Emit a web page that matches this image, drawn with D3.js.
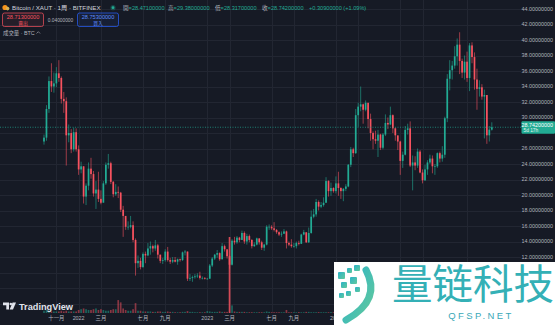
<!DOCTYPE html>
<html>
<head>
<meta charset="utf-8">
<script src="https://cdn.jsdelivr.net/npm/d3@7"></script>
<style>
  html, body { margin: 0; padding: 0; background: #161a25; overflow: hidden; }
  svg { display: block; }
  text { font-family: "Liberation Sans", Arial, "Noto Sans CJK TC", sans-serif; }
</style>
</head>
<body>
<div id="chart"></div>
<script>
// weekly BTC/XAUT candles, Bitfinex; every bar opens at the previous close
const firstWeek = "2021-09-27";
const firstOpen = 26.9;

const closes = [
  27.4, 31.1, 34.7, 34.0, 34.4, 35.7, 35.1, 32.4, 32.1, 27.7,
  28.0, 25.9, 28.1, 25.9, 23.3, 23.7, 19.8, 21.2, 23.4, 22.7,
  20.2, 20.7, 19.5, 19.0, 21.5, 23.9, 24.1, 21.7, 20.1, 20.4,
  20.3, 18.1, 17.3, 15.9, 15.9, 16.1, 14.2, 11.2, 11.5, 10.7,
  12.4, 12.2, 13.1, 13.4, 13.1, 13.5, 12.3, 11.5, 11.6, 12.7,
  11.6, 11.4, 11.6, 11.4, 11.7, 11.6, 12.6, 12.7, 9.2, 9.3,
  9.4, 9.5, 9.6, 9.3, 9.3, 9.2, 9.2, 10.9, 11.8, 12.3,
  12.5, 11.7, 13.4, 13.0, 12.1, 11.0, 14.1, 13.9, 14.5, 14.2,
  15.1, 14.0, 14.7, 14.2, 13.4, 13.6, 14.4, 13.9, 13.2, 13.6,
  15.9, 15.9, 15.7, 15.5, 15.2, 14.9, 15.0, 15.3, 13.8, 13.6,
  13.4, 13.4, 13.8, 13.7, 14.9, 15.2, 13.9, 15.1, 17.2, 17.5,
  19.1, 18.5, 18.7, 19.0, 21.8, 20.5, 20.9, 20.5, 21.5, 20.9,
  20.5, 20.8, 21.1, 23.9, 25.9, 25.4, 30.3, 31.4, 31.7, 31.0,
  31.9, 29.8, 28.0, 27.2, 27.0, 27.8, 26.1, 27.8, 29.3, 29.1,
  30.3, 28.6, 27.7, 26.9, 24.4, 25.2, 28.4, 28.6, 23.8, 24.2,
  23.8, 25.6, 22.9, 21.9, 23.3, 24.2, 24.7, 23.7, 23.7, 25.4,
  24.7, 25.2, 29.9, 35.0, 36.1, 36.7, 37.9, 39.4, 37.3, 35.8,
  37.2, 35.1, 39.3, 37.8, 34.9, 33.7, 33.9, 32.7, 32.9, 27.7,
  28.433, 28.742
];

const highs = [
  27.8, 31.6, 35.3, 37.0, 35.8, 36.5, 37.4, 35.3, 33.3, 32.6,
  29.1, 28.5, 28.7, 28.6, 26.4, 24.3, 23.7, 21.5, 24.2, 24.8,
  23.1, 21.8, 23.0, 20.6, 21.8, 24.2, 25.3, 24.3, 21.8, 21.4,
  21.1, 20.4, 18.6, 17.1, 16.6, 17.3, 16.6, 14.4, 12.2, 11.9,
  12.6, 12.7, 13.8, 14.0, 13.6, 14.2, 13.7, 12.3, 11.9, 13.0,
  13.3, 11.9, 12.0, 12.0, 11.8, 11.8, 12.7, 12.9, 12.7, 9.8,
  9.6, 9.8, 9.9, 10.1, 9.5, 9.4, 9.3, 11.1, 12.0, 12.4,
  12.9, 12.6, 13.8, 13.6, 12.8, 12.2, 14.3, 14.6, 14.7, 14.6,
  15.4, 15.3, 15.0, 14.9, 14.3, 13.9, 14.5, 14.4, 14.1, 13.7,
  16.1, 16.2, 16.1, 16.5, 15.6, 15.3, 15.3, 15.6, 15.4, 14.0,
  14.3, 13.8, 14.0, 14.1, 15.0, 15.5, 15.1, 15.8, 18.0, 18.2,
  19.5, 19.3, 19.1, 19.7, 22.3, 21.9, 21.6, 21.0, 22.4, 23.0,
  21.0, 20.9, 21.4, 24.0, 26.2, 26.1, 31.1, 31.9, 34.0, 31.8,
  32.2, 31.6, 30.5, 28.2, 28.3, 28.4, 27.9, 28.0, 30.4, 30.0,
  31.4, 30.4, 28.7, 27.6, 27.0, 25.6, 28.9, 29.2, 29.5, 25.1,
  25.0, 26.0, 25.8, 23.3, 23.9, 24.5, 25.2, 25.1, 24.0, 25.5,
  25.6, 26.3, 30.1, 35.6, 37.4, 37.3, 39.2, 40.2, 41.0, 37.6,
  38.0, 38.5, 39.6, 39.7, 38.4, 36.3, 34.8, 34.3, 33.6, 32.9,
  28.9, 29.38
];

const lows = [
  26.5, 27.0, 30.6, 33.3, 33.2, 33.9, 34.6, 31.8, 30.6, 23.8,
  26.8, 25.4, 25.6, 25.6, 22.6, 22.8, 18.9, 18.7, 20.6, 22.1,
  19.8, 18.2, 19.1, 18.8, 19.2, 21.3, 23.4, 21.4, 19.7, 19.9,
  19.6, 17.8, 14.6, 15.5, 15.5, 15.7, 13.9, 9.6, 10.6, 10.4,
  10.6, 11.2, 12.1, 12.3, 12.6, 12.8, 11.8, 11.2, 11.1, 11.4,
  11.4, 11.1, 11.2, 11.3, 11.0, 11.4, 11.5, 12.2, 8.9, 8.9,
  8.8, 9.2, 9.3, 9.1, 9.1, 9.1, 9.1, 9.2, 10.7, 11.6,
  11.9, 11.5, 11.7, 12.7, 11.8, 10.5, 10.9, 13.6, 13.7, 13.9,
  14.2, 13.7, 13.6, 13.9, 13.1, 13.3, 13.5, 13.6, 12.9, 12.8,
  13.5, 15.5, 15.5, 15.3, 15.0, 14.7, 14.6, 15.0, 13.1, 13.4,
  13.2, 13.2, 13.1, 13.5, 13.7, 14.8, 13.8, 13.8, 15.0, 17.0,
  17.2, 18.0, 18.3, 18.5, 19.0, 19.8, 19.9, 20.3, 20.2, 19.9,
  19.5, 19.2, 20.5, 21.0, 23.6, 24.9, 25.3, 28.8, 30.8, 29.2,
  30.8, 28.6, 27.0, 25.9, 26.6, 24.9, 25.8, 25.9, 27.6, 28.5,
  29.0, 28.0, 27.0, 25.8, 22.6, 23.5, 25.1, 27.8, 23.6, 20.6,
  23.2, 23.5, 22.8, 21.5, 21.8, 22.6, 24.0, 22.8, 22.6, 23.5,
  24.2, 24.3, 24.8, 29.4, 33.5, 34.9, 36.3, 36.7, 35.6, 35.1,
  34.9, 34.6, 33.4, 37.0, 33.6, 31.0, 32.7, 32.3, 27.3, 26.6,
  26.9, 28.317
];

const volumes = [
  3, 4, 3, 2, 2, 2, 2, 3, 2, 3, 2, 2, 2, 2,
  4, 5, 6, 5, 4, 4, 5, 6, 4, 5, 4, 3, 3, 4,
  5, 5, 17, 14, 6, 4, 3, 3, 5, 13,
  3, 3, 2, 2, 2, 2, 1.5, 1.5, 2, 2, 1.5, 1.5, 2, 1.5, 1.5, 1, 1, 1, 1.5, 1.5,
  2.5, 1.5, 1.5, 1, 1, 1, 1, 1, 2.5, 2, 1.5, 1.5, 1.5, 2, 1.5, 1.5, 1.5,
  100, 10,
  2, 1.5, 1.5, 1.5, 1.5, 1, 1, 1, 1, 1, 1, 1, 1, 2, 1.5, 1, 1, 1, 1, 1, 1,
  4,
  1, 1, 1, 1, 1.2, 1, 1, 1.5, 1.5, 1, 1, 1, 1.2, 1, 1, 1, 1, 1.2, 1, 1,
  1, 1, 1, 1.2, 1.5, 1, 1.5, 1.5, 1.2, 1, 1.2, 1, 1, 1, 1, 1, 1, 1, 1, 1,
  1, 1, 1, 1.2, 1, 1, 1.2, 1, 1.5, 1, 1, 1, 1, 1, 1, 1, 1, 1, 1, 1,
  1.2, 1.5, 1.5, 1.2, 1, 1, 1, 1, 1, 1.2, 1.5, 1, 1, 1, 1.5, 1.5, 1.2, 1, 1, 1,
  1, 1, 1.5
];

// price levels: the grid runs through all of them, labels only show from 12 up
const priceTicks = [6, 8, 10, 12, 14, 16, 18, 20, 22, 24, 26, 28, 30, 32, 34, 36, 38, 40, 42, 44];
const labelFrom = 12;
// time axis: labels after "2024" sit under the site watermark, only their grid lines show
const tickDates = ["2021-11-01", "2022-01-03", "2022-03-07", "2022-07-04", "2022-09-05",
  "2023-01-02", "2023-03-06", "2023-07-03", "2023-09-04", "2024-01-01"];
const tickLabels = ["十一月", "2022", "三月", "七月", "九月", "2023", "三月", "七月", "九月", "2024"];
const hiddenTickDates = ["2024-03-04", "2024-07-01", "2024-09-02", "2025-01-06"];

const lastPrice = 28.742;

const W = 555, H = 325;
const upColor = "#22ab94", downColor = "#f7525f";
const gridColor = "#222632", axisText = "#b2b5be";

const parse = d3.utcParse("%Y-%m-%d");
const start = parse(firstWeek);
const bars = closes.map((c, i) => ({
  date: d3.utcWeek.offset(start, i),
  open: i === 0 ? firstOpen : closes[i - 1],
  high: highs[i],
  low: lows[i],
  close: c,
  volume: volumes[i]
}));

const x = d3.scaleUtc()
  .domain([bars[0].date, bars[bars.length - 1].date])
  .range([44, 491.8]);
const y = d3.scaleLinear().domain([12, 44]).range([257, 9]);
const yVol = d3.scaleLinear().domain([0, 100]).range([313, 237]);

const svg = d3.select("#chart").append("svg")
  .attr("width", W).attr("height", H);

svg.append("rect").attr("width", W).attr("height", H).attr("fill", "#161a25");

// grid
const grid = svg.append("g").attr("shape-rendering", "crispEdges");
grid.selectAll("line.h")
  .data(priceTicks)
  .join("line")
  .attr("class", "h")
  .attr("x1", 0).attr("x2", 521)
  .attr("y1", d => Math.round(y(d)) + 0.5)
  .attr("y2", d => Math.round(y(d)) + 0.5)
  .attr("stroke", gridColor);
grid.selectAll("line.v")
  .data(tickDates.concat(hiddenTickDates))
  .join("line")
  .attr("class", "v")
  .attr("x1", d => Math.round(x(parse(d))) + 0.5)
  .attr("x2", d => Math.round(x(parse(d))) + 0.5)
  .attr("y1", 0).attr("y2", 313)
  .attr("stroke", gridColor);

// volume
svg.append("g")
  .selectAll("rect")
  .data(bars)
  .join("rect")
  .attr("x", d => x(d.date) - 0.85)
  .attr("width", 1.7)
  .attr("y", d => yVol(d.volume))
  .attr("height", d => yVol(0) - yVol(d.volume))
  .attr("fill", d => d.close >= d.open ? upColor : downColor)
  .attr("fill-opacity", d => d.volume > 50 ? 0.85 : 0.5);

// candles
const candle = svg.append("g")
  .selectAll("g")
  .data(bars)
  .join("g")
  .attr("fill", d => d.close >= d.open ? upColor : downColor)
  .attr("stroke", d => d.close >= d.open ? upColor : downColor);

candle.append("line")
  .attr("x1", d => x(d.date)).attr("x2", d => x(d.date))
  .attr("y1", d => y(d.high)).attr("y2", d => y(d.low))
  .attr("stroke-width", 0.6);

candle.append("rect")
  .attr("x", d => x(d.date) - 0.85)
  .attr("width", 1.7)
  .attr("y", d => y(Math.max(d.open, d.close)))
  .attr("height", d => Math.max(0.6, Math.abs(y(d.open) - y(d.close))))
  .attr("stroke", "none");

// last price line
svg.append("line")
  .attr("x1", 0).attr("x2", 522)
  .attr("y1", y(lastPrice)).attr("y2", y(lastPrice))
  .attr("stroke", upColor)
  .attr("stroke-width", 0.7)
  .attr("stroke-dasharray", "1,1.5");

// price axis (a label under the last-price tag is hidden, as on the scale)
svg.append("g")
  .selectAll("text")
  .data(priceTicks.filter(d => d >= labelFrom && Math.abs(y(d) - y(lastPrice)) > 8))
  .join("text")
  .attr("x", 553)
  .attr("y", d => y(d) + 1.9)
  .attr("text-anchor", "end")
  .attr("font-size", 5.4)
  .attr("fill", axisText)
  .text(d => d.toFixed(8));

const tag = svg.append("g");
tag.append("rect")
  .attr("x", 521.5).attr("y", y(lastPrice) - 6)
  .attr("width", 33.5).attr("height", 12.5)
  .attr("rx", 1)
  .attr("fill", upColor);
tag.append("text")
  .attr("x", 553).attr("y", y(lastPrice) - 0.3)
  .attr("text-anchor", "end")
  .attr("font-size", 5.4)
  .attr("fill", "#ffffff")
  .text(lastPrice.toFixed(8));
tag.append("text")
  .attr("x", 523.5).attr("y", y(lastPrice) + 5)
  .attr("font-size", 4.8)
  .attr("fill", "#e6f5f2")
  .text("5d 17h");

// time axis
svg.append("g")
  .selectAll("text")
  .data(tickDates)
  .join("text")
  .attr("x", d => x(parse(d)))
  .attr("y", 319.5)
  .attr("text-anchor", "middle")
  .attr("font-size", 5.4)
  .attr("fill", axisText)
  .text((d, i) => tickLabels[i]);

// legend
const legend = svg.append("g");
legend.append("circle").attr("cx", 5).attr("cy", 7.5).attr("r", 2.6).attr("fill", "#f7931a");
legend.append("circle").attr("cx", 7.6).attr("cy", 8.6).attr("r", 1.8).attr("fill", "#d4b35a");
legend.append("text")
  .attr("x", 12).attr("y", 9.8)
  .attr("font-size", 6.2)
  .attr("fill", "#d1d4dc")
  .text("Bitcoin / XAUT · 1周 · BITFINEX");
legend.append("circle").attr("cx", 113).attr("cy", 7.7).attr("r", 2.6).attr("fill", upColor).attr("fill-opacity", 0.3);
legend.append("circle").attr("cx", 113).attr("cy", 7.7).attr("r", 1.4).attr("fill", upColor);

const ohlc = [["開", "=28.47100000", 123], ["高", "=29.38000000", 168], ["低", "=28.31700000", 215], ["收", "=28.74200000", 262]];
ohlc.forEach(([k, v, px]) => {
  const t = legend.append("text").attr("x", px).attr("y", 9.8).attr("font-size", 5.6);
  t.append("tspan").attr("fill", "#b2b5be").text(k);
  t.append("tspan").attr("fill", upColor).text(v);
});
legend.append("text")
  .attr("x", 309).attr("y", 9.8)
  .attr("font-size", 5.6)
  .attr("fill", upColor)
  .text("+0.30900000 (+1.09%)");

// sell / buy boxes
const sell = legend.append("g");
sell.append("rect").attr("x", 2.5).attr("y", 13).attr("width", 41).attr("height", 13.5).attr("rx", 2)
  .attr("fill", "rgba(247,82,95,0.07)").attr("stroke", downColor).attr("stroke-width", 0.7);
sell.append("text").attr("x", 23).attr("y", 19.2).attr("text-anchor", "middle").attr("font-size", 5.6)
  .attr("fill", downColor).text("28.71300000");
sell.append("text").attr("x", 23).attr("y", 25).attr("text-anchor", "middle").attr("font-size", 4.8)
  .attr("fill", downColor).text("賣出");
legend.append("text").attr("x", 60.5).attr("y", 21.5).attr("text-anchor", "middle").attr("font-size", 4.8)
  .attr("fill", "#b2b5be").text("0.04000000");
const buy = legend.append("g");
buy.append("rect").attr("x", 77.5).attr("y", 13).attr("width", 41).attr("height", 13.5).attr("rx", 2)
  .attr("fill", "rgba(41,98,255,0.07)").attr("stroke", "#2962ff").attr("stroke-width", 0.7);
buy.append("text").attr("x", 98).attr("y", 19.2).attr("text-anchor", "middle").attr("font-size", 5.6)
  .attr("fill", "#5b8cff").text("28.75300000");
buy.append("text").attr("x", 98).attr("y", 25).attr("text-anchor", "middle").attr("font-size", 4.8)
  .attr("fill", "#5b8cff").text("買入");

legend.append("text").attr("x", 3).attr("y", 34.5).attr("font-size", 5.4)
  .attr("fill", "#b2b5be").text("成交量 · BTC");
legend.append("path").attr("d", "M36.5,33.5 L38.3,31.7 L40.1,33.5")
  .attr("fill", "none").attr("stroke", "#b2b5be").attr("stroke-width", 0.6);

// TradingView logo
const tv = svg.append("g").attr("fill", "#e0e3eb");
tv.append("path").attr("d", "M3,302.5 H9 V309.5 H6.3 V305.2 H3 Z");
tv.append("circle").attr("cx", 10.8).attr("cy", 304).attr("r", 1.3);
tv.append("path").attr("d", "M12.6,302.5 H16 L13,309.5 H9.6 Z");
tv.append("text").attr("x", 19).attr("y", 309.5).attr("font-size", 9.2).attr("font-weight", 600)
  .attr("fill", "#e0e3eb").text("TradingView");

// site watermark
const wm = svg.append("g");
const defs = svg.append("defs");
const grad = defs.append("linearGradient").attr("id", "wmGrad")
  .attr("x1", "0").attr("y1", "0").attr("x2", "1").attr("y2", "1");
grad.append("stop").attr("offset", "0%").attr("stop-color", "#2bb3c9");
grad.append("stop").attr("offset", "100%").attr("stop-color", "#62c99c");

wm.append("rect").attr("x", 334).attr("y", 262).attr("width", 221).attr("height", 63).attr("fill", "#ffffff");
const squares = [[338, 272, 7], [347, 268, 5], [354, 265, 6], [341, 282, 6], [350, 277, 7], [346, 291, 5], [355, 287, 5], [339, 293, 5]];
wm.selectAll("rect.sq")
  .data(squares)
  .join("rect")
  .attr("class", "sq")
  .attr("x", d => d[0]).attr("y", d => d[1])
  .attr("width", d => d[2]).attr("height", d => d[2])
  .attr("rx", 1)
  .attr("fill", "url(#wmGrad)");
wm.append("path")
  .attr("d", "M366,270 Q382,300 346,320")
  .attr("fill", "none")
  .attr("stroke", "url(#wmGrad)")
  .attr("stroke-width", 7)
  .attr("stroke-linecap", "round");
wm.append("text")
  .attr("x", 392).attr("y", 299)
  .attr("font-family", "Noto Sans CJK SC")
  .attr("font-size", 40.5)
  .attr("fill", "#34b0b6")
  .text("量链科技");
wm.append("text")
  .attr("x", 481).attr("y", 318.5)
  .attr("text-anchor", "middle")
  .attr("font-size", 9.5)
  .attr("letter-spacing", 2.4)
  .attr("fill", "#3aa8b8")
  .text("QFSP.NET");
</script>
</body>
</html>
